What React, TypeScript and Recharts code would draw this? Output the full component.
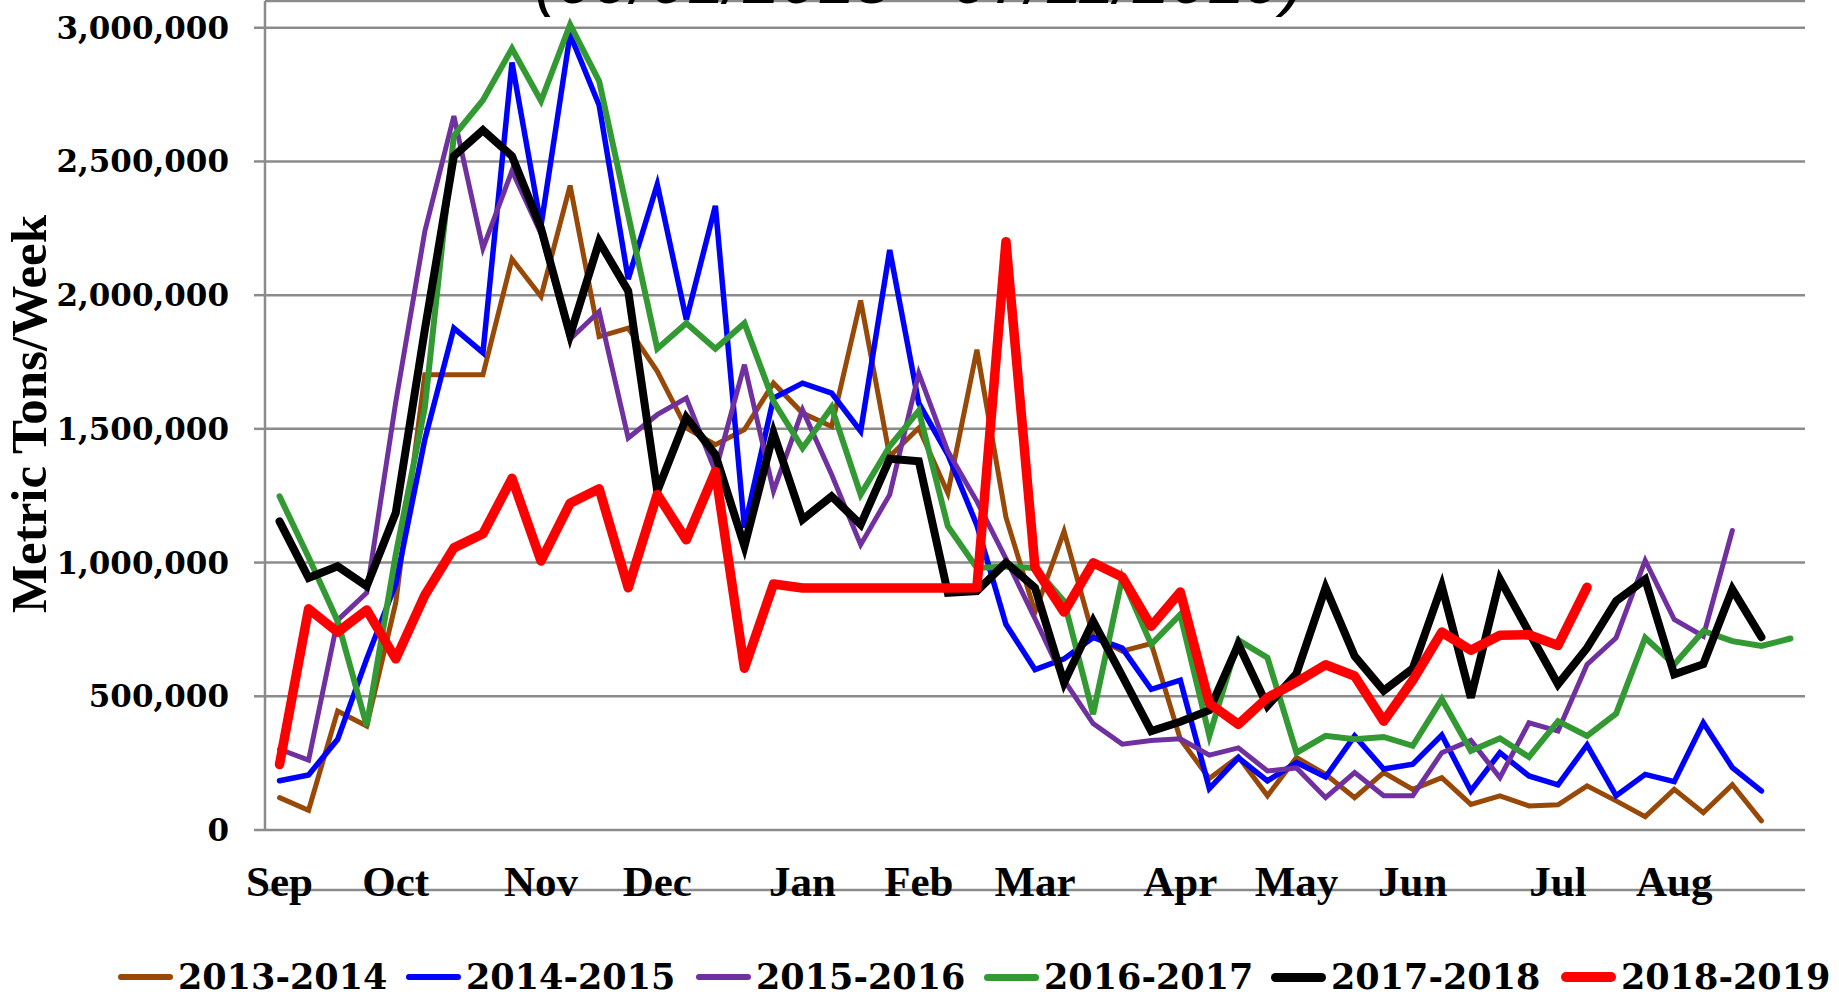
import React from 'react';
import { LineChart, Line, XAxis, YAxis, CartesianGrid, Legend } from 'recharts';

// ---------- data ----------
const TITLE = '(09/01/2018 - 07/11/2019)';
const Y_TITLE = 'Metric Tons/Week';

const MONTH_LABELS = ['Sep', 'Oct', 'Nov', 'Dec', 'Jan', 'Feb', 'Mar', 'Apr', 'May', 'Jun', 'Jul', 'Aug'];
const MONTH_WEEKS = [0, 4, 9, 13, 18, 22, 26, 31, 35, 39, 44, 48];
const WEEK_COUNT = 53;

const Y_TICKS = [0, 500000, 1000000, 1500000, 2000000, 2500000, 3000000];
const Y_MAX = 3100000;

const S2013_2014 = [
  121000, 74000, 445000, 389000, 850000, 1702000, 1702000, 1702000, 2135000, 1995000,
  2410000, 1845000, 1877000, 1715000, 1503000, 1441000, 1497000, 1671000, 1559000, 1509000,
  1980000, 1397000, 1503000, 1260000, 1796000, 1170000, 815000, 1117000, 725000, 669000,
  697000, 340000, 193000, 274000, 128000, 271000, 208000, 121000, 215000, 152000,
  196000, 96000, 128000, 90000, 94000, 165000, 109000, 50000, 152000, 65000,
  169000, 34000,
];
const S2014_2015 = [
  184000, 206000, 339000, 640000, 920000, 1460000, 1877000, 1785000, 2870000, 2260000,
  2975000, 2710000, 2060000, 2414000, 1908000, 2334000, 1130000, 1615000, 1671000, 1634000,
  1491000, 2169000, 1596000, 1404000, 1140000, 769000, 600000, 640000, 720000, 680000,
  526000, 560000, 155000, 270000, 184000, 252000, 198000, 352000, 228000, 246000,
  355000, 146000, 289000, 202000, 169000, 318000, 128000, 208000, 181000, 401000,
  233000, 146000,
];
const S2015_2016 = [
  302000, 261000, 785000, 887000, 1600000, 2238000, 2670000, 2175000, 2465000, 2230000,
  1836000, 1939000, 1466000, 1553000, 1615000, 1341000, 1740000, 1267000, 1571000, 1329000,
  1067000, 1254000, 1708000, 1416000, 1229000, 1015000, 790000, 560000, 398000, 321000,
  335000, 341000, 280000, 307000, 221000, 232000, 121000, 215000, 128000, 128000,
  289000, 335000, 196000, 401000, 370000, 619000, 719000, 1008000, 787000, 725000,
  1120000,
];
const S2016_2017 = [
  1248000, 1020000, 781000, 390000, 1030000, 1580000, 2596000, 2729000, 2922000, 2726000,
  3012000, 2800000, 2300000, 1800000, 1895000, 1800000, 1895000, 1603000, 1428000, 1581000,
  1254000, 1435000, 1568000, 1136000, 980000, 985000, 980000, 856000, 433000, 943000,
  694000, 806000, 352000, 710000, 644000, 289000, 352000, 339000, 348000, 315000,
  489000, 296000, 343000, 273000, 407000, 352000, 435000, 719000, 619000, 744000,
  706000, 688000, 716000,
];
const S2017_2018 = [
  1154000, 943000, 986000, 912000, 1186000, 1870000, 2520000, 2617000, 2520000, 2250000,
  1850000, 2200000, 2016000, 1267000, 1543000, 1404000, 1061000, 1484000, 1161000, 1248000,
  1142000, 1388000, 1379000, 887000, 893000, 1000000, 906000, 551000, 781000, 576000,
  370000, 405000, 448000, 694000, 464000, 585000, 906000, 650000, 521000, 604000,
  912000, 495000, 937000, 740000, 545000, 681000, 856000, 937000, 582000, 620000,
  900000, 721000,
];
const S2018_2019 = [
  245000, 827000, 740000, 823000, 640000, 878000, 1055000, 1108000, 1315000, 1006000,
  1222000, 1276000, 906000, 1255000, 1085000, 1341000, 605000, 920000, 905000, 905000,
  905000, 905000, 905000, 905000, 906000, 2200000, 981000, 815000, 999000, 946000,
  762000, 890000, 473000, 395000, 495000, 553000, 618000, 576000, 407000, 560000,
  740000, 672000, 728000, 730000, 690000, 908000,
];

const SERIES = [
  { key: 's1314', name: '2013-2014', color: '#984807', width: 5, values: S2013_2014 },
  { key: 's1415', name: '2014-2015', color: '#0000FF', width: 5.5, values: S2014_2015 },
  { key: 's1516', name: '2015-2016', color: '#7030A0', width: 5, values: S2015_2016 },
  { key: 's1617', name: '2016-2017', color: '#339933', width: 6, values: S2016_2017 },
  { key: 's1718', name: '2017-2018', color: '#000000', width: 8, values: S2017_2018 },
  { key: 's1819', name: '2018-2019', color: '#FF0000', width: 9.5, values: S2018_2019 },
];

// ---------- table built from the arrays ----------
const WEEKS = Array.from({ length: WEEK_COUNT }, (_, i) => i);
const ROWS = WEEKS.map((w) => {
  const row: Record<string, number | undefined> = { week: w };
  SERIES.forEach((s) => {
    row[s.key] = s.values[w];
  });
  return row;
});
const BOUNDARY_TICKS = Array.from({ length: WEEK_COUNT + 1 }, (_, i) => i - 0.5);
const X_DOMAIN: [number, number] = [-0.5, WEEK_COUNT - 0.5];

// ---------- layout / style ----------
const W = 1839;
const H = 1005;
const GRAY = '#8b8b8b';
const SERIF_DIGITS = '"DejaVu Serif", serif';
const SERIF_TEXT = '"Liberation Serif", "Times New Roman", serif';
const LEGEND_X = [118, 406, 696, 984, 1271, 1561];

const fmt = (v: number) => v.toLocaleString('en-US');

const MonthTick = (props: any) => {
  const { x, y, payload } = props;
  const idx = MONTH_WEEKS.indexOf(payload.value);
  if (idx < 0) return null;
  return (
    <text
      x={x}
      y={y + 66}
      textAnchor="middle"
      fill="#000"
      fontFamily={SERIF_TEXT}
      fontWeight="bold"
      fontSize={43}
    >
      {MONTH_LABELS[idx]}
    </text>
  );
};

const YTitle = () => (
  <text
    x={46}
    y={414}
    transform="rotate(-90 46 414)"
    textAnchor="middle"
    fill="#000"
    fontFamily={SERIF_TEXT}
    fontWeight="bold"
    fontSize={51}
  >
    {Y_TITLE}
  </text>
);

const renderLegend = () => (
  <div style={{ position: 'relative', width: W, height: 42 }}>
    {SERIES.map((s, i) => (
      <div
        key={s.key}
        style={{
          position: 'absolute',
          left: LEGEND_X[i],
          top: 0,
          height: 42,
          display: 'flex',
          alignItems: 'center',
          whiteSpace: 'nowrap',
        }}
      >
        <span
          style={{
            display: 'inline-block',
            width: 55,
            height: s.width + 1,
            background: s.color,
            borderRadius: (s.width + 1) / 2,
            marginRight: 5,
          }}
        />
        <span
          style={{
            fontFamily: SERIF_DIGITS,
            fontWeight: 'bold',
            fontSize: 35,
            lineHeight: '42px',
            color: '#000',
          }}
        >
          {s.name}
        </span>
      </div>
    ))}
  </div>
);

export default function App() {
  return (
    <div style={{ position: 'absolute', left: 0, top: 0, width: W, height: H, background: '#fff', overflow: 'hidden' }}>
      <div
        style={{
          position: 'absolute',
          left: 0,
          top: -54,
          width: W,
          textAlign: 'center',
          fontFamily: '"Liberation Sans", Arial, sans-serif',
          fontStyle: 'italic',
          fontSize: 67,
          lineHeight: '67px',
          color: '#000',
          whiteSpace: 'nowrap',
          zIndex: 2,
        }}
      >
        {TITLE}
      </div>
      <LineChart width={W} height={H} data={ROWS} margin={{ top: 1, right: 34, bottom: 102, left: 0 }}>
        <CartesianGrid vertical={false} stroke={GRAY} strokeWidth={2.5} />
        <XAxis
          xAxisId="ticks"
          dataKey="week"
          type="number"
          domain={X_DOMAIN}
          allowDataOverflow
          ticks={BOUNDARY_TICKS}
          interval={0}
          height={13}
          tick={false}
          tickSize={13}
          axisLine={{ stroke: GRAY, strokeWidth: 2.5 }}
          tickLine={{ stroke: GRAY, strokeWidth: 2.5 }}
        />
        <XAxis
          xAxisId="months"
          dataKey="week"
          type="number"
          domain={X_DOMAIN}
          allowDataOverflow
          ticks={MONTH_WEEKS}
          interval={0}
          height={60}
          tickSize={0}
          tickMargin={0}
          axisLine={false}
          tickLine={false}
          tick={<MonthTick />}
        />
        <YAxis
          domain={[0, Y_MAX]}
          ticks={Y_TICKS}
          interval={0}
          width={265}
          tickSize={11}
          tickMargin={25}
          tickFormatter={fmt}
          axisLine={{ stroke: GRAY, strokeWidth: 2.5 }}
          tickLine={{ stroke: GRAY, strokeWidth: 2.5 }}
          tick={{ fill: '#000', fontFamily: SERIF_DIGITS, fontWeight: 'bold', fontSize: 31 }}
          label={<YTitle />}
        />
        <Legend
          layout="horizontal"
          verticalAlign="middle"
          align="center"
          wrapperStyle={{ top: 956, left: 0, width: W, height: 42 }}
          content={renderLegend}
        />
        {SERIES.map((s) => (
          <Line
            key={s.key}
            xAxisId="ticks"
            type="linear"
            dataKey={s.key}
            name={s.name}
            stroke={s.color}
            strokeWidth={s.width}
            strokeLinejoin={s.key === 's1819' ? 'round' : 'miter'}
            strokeLinecap="round"
            dot={false}
            activeDot={false}
            isAnimationActive={false}
          />
        ))}
      </LineChart>
    </div>
  );
}
